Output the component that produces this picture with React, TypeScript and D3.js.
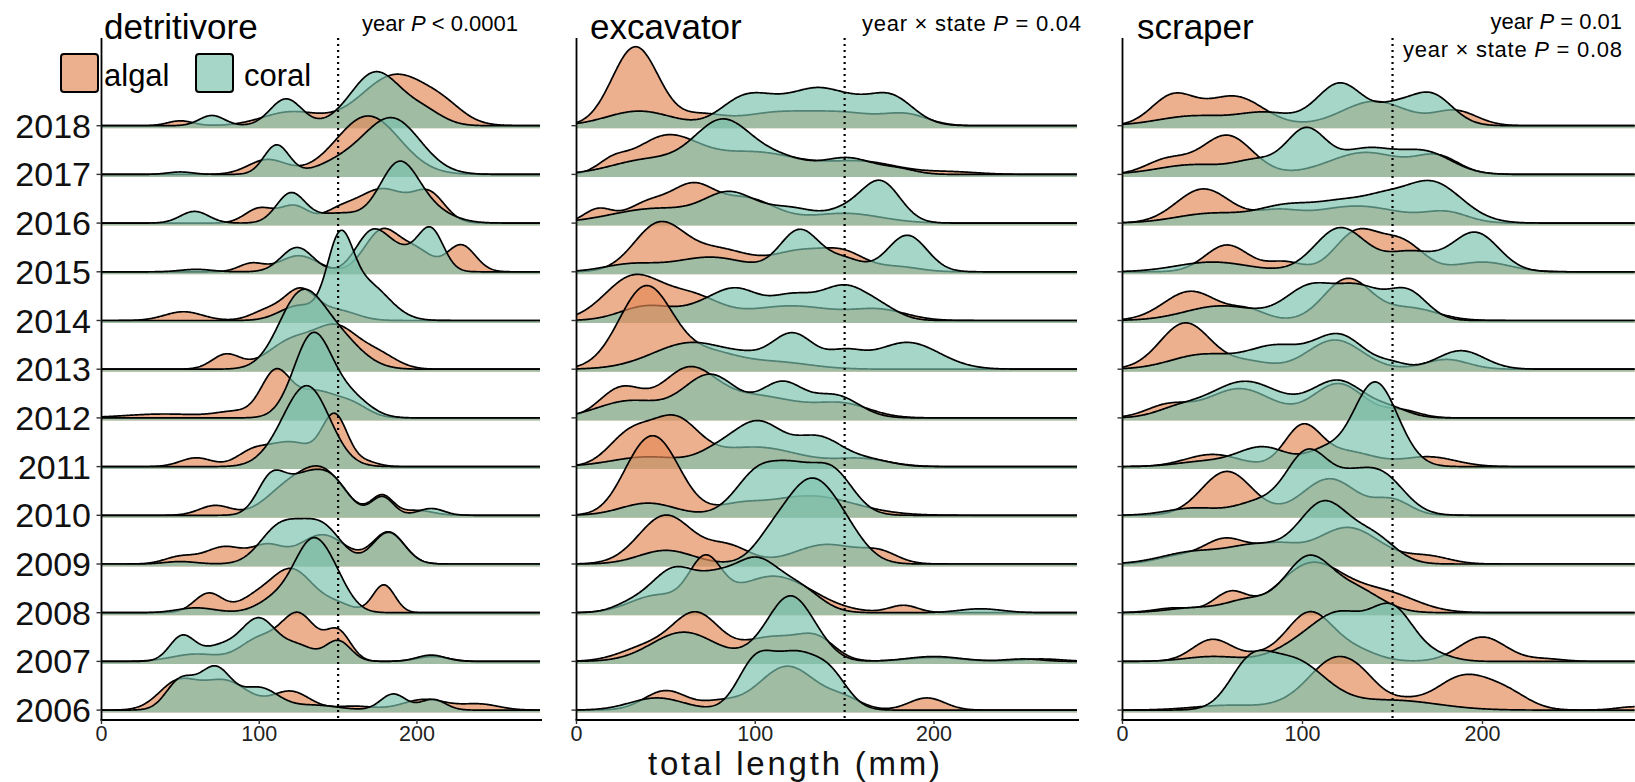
import React from "react";
import * as d3 from "d3";

// ---------- data ----------
const years = [2006, 2007, 2008, 2009, 2010, 2011, 2012, 2013, 2014, 2015, 2016, 2017, 2018];
const xTicks = [0, 100, 200];
const refLine = 150;
const panelTitles = ["detritivore", "excavator", "scraper"];
const legendLabels = ["algal", "coral"];

// density components per year (2006..2018): [mode mm, relative height, spread mm]
const detritivoreAlgal = [
  [[48, .55, 12], [78, .6, 15], [120, .38, 12], [160, .08, 12], [205, .22, 14], [240, .12, 12]],
  [[60, .15, 15], [100, .45, 12], [125, .95, 11], [150, .6, 8], [210, .1, 10]],
  [[68, .4, 9], [95, .2, 10], [120, .9, 14], [150, .15, 10], [179, .57, 7]],
  [[50, .15, 10], [78, .35, 12], [105, .35, 10], [140, .6, 15], [182, .65, 10]],
  [[72, .2, 10], [120, .6, 15], [142, .75, 13], [178, .4, 7], [200, .1, 10]],
  [[60, .18, 10], [95, .25, 10], [120, .5, 15], [148, 1.0, 8], [167, .1, 8]],
  [[40, .08, 25], [85, .12, 12], [110, .85, 9], [135, .55, 15], [160, .2, 10]],
  [[79, .3, 9], [122, .6, 16], [150, .75, 13], [175, .3, 12]],
  [[52, .18, 12], [105, .2, 10], [126, .62, 10], [150, .2, 12]],
  [[95, .17, 8], [125, .33, 12], [178, .85, 11], [200, .4, 10], [228, .55, 9]],
  [[100, .3, 9], [122, .35, 9], [150, .2, 10], [178, .7, 16], [208, .55, 10]],
  [[105, .3, 12], [169, 1.2, 20]],
  [[50, .1, 8], [120, .28, 18], [187, 1.05, 22], [218, .2, 12]],
];
const detritivoreCoral = [
  [[50, .6, 9], [72, .85, 10], [100, .45, 12], [135, .1, 15], [185, .33, 8], [210, .22, 8]],
  [[51, .5, 8], [75, .3, 12], [100, .85, 11], [125, .3, 10], [150, .42, 8], [209, .13, 9]],
  [[60, .1, 12], [112, .3, 12], [133, 1.3, 11], [148, .5, 10]],
  [[50, .05, 10], [112, .7, 12], [125, .2, 10], [140, .75, 12], [182, .65, 10]],
  [[108, .8, 9], [127, .6, 10], [145, .75, 11], [178, .38, 7], [209, .14, 8]],
  [[112, .2, 12], [131, 1.6, 14]],
  [[134, 1.7, 12], [158, .4, 12]],
  [[126, 1.45, 14], [150, .6, 15]],
  [[125, .3, 12], [151, 1.45, 8], [168, .75, 14]],
  [[60, .05, 10], [124, .5, 10], [171, .75, 10], [190, .4, 12], [209, .8, 8]],
  [[59, .24, 9], [120, .6, 9], [150, .2, 15], [188, 1.1, 12], [205, .3, 15]],
  [[50, .05, 8], [111, .6, 8], [150, .2, 15], [184, 1.15, 18]],
  [[70, .21, 8], [117, .55, 10], [174, 1.1, 16], [205, .25, 12]],
];
const excavatorAlgal = [
  [[50, .4, 12], [80, .15, 10], [118, .9, 16], [150, .2, 10], [196, .25, 10]],
  [[40, .3, 15], [67, .93, 13], [110, .5, 18], [135, .35, 10], [200, .08, 15], [260, .05, 12]],
  [[45, .35, 15], [72, .95, 9], [110, .75, 22], [183, .15, 8]],
  [[50, 1.0, 15], [85, .35, 12], [140, .4, 18], [170, .2, 10]],
  [[30, .2, 10], [44, 1.55, 14], [90, .15, 12], [130, .4, 25]],
  [[30, .65, 12], [55, .9, 13], [100, .4, 25], [160, .15, 15]],
  [[25, .6, 12], [62, .9, 15], [100, .45, 25], [150, .25, 15]],
  [[39, 1.7, 15], [75, .3, 15], [110, .15, 20]],
  [[32, .9, 16], [65, .45, 15], [120, .3, 25], [170, .2, 15]],
  [[46, .95, 14], [80, .45, 18], [125, .4, 15], [150, .35, 12], [180, .1, 12]],
  [[12, .28, 8], [40, .4, 12], [65, .7, 12], [95, .5, 16], [150, .2, 20]],
  [[20, .2, 8], [50, .75, 18], [100, .45, 25], [160, .25, 20], [210, .05, 15]],
  [[33, 1.62, 13], [70, .2, 12], [110, .25, 20], [150, .25, 20], [185, .2, 12]],
];
const excavatorCoral = [
  [[45, .25, 15], [100, .95, 10], [122, 1.05, 12], [142, .65, 10]],
  [[60, .6, 18], [100, .1, 10], [119, 1.27, 12], [135, .2, 10], [200, .1, 15], [250, .05, 10]],
  [[30, .15, 10], [55, .9, 13], [78, .45, 10], [100, 1.05, 13], [125, .45, 12], [226, .08, 12]],
  [[50, .28, 15], [108, .35, 10], [130, 1.6, 14], [150, .5, 12]],
  [[40, .25, 15], [103, .95, 13], [122, .55, 10], [142, .95, 12]],
  [[40, .2, 20], [80, .3, 12], [102, .85, 13], [135, .6, 14], [165, .12, 12]],
  [[30, .35, 18], [75, .88, 15], [115, .7, 12], [145, .45, 13]],
  [[65, .55, 22], [95, .1, 10], [121, .72, 12], [150, .3, 10], [185, .55, 18]],
  [[40, .3, 15], [70, .2, 12], [90, .6, 13], [120, .45, 12], [150, .7, 14], [172, .15, 10]],
  [[30, .15, 15], [75, .3, 20], [125, .85, 11], [150, .25, 10], [185, .75, 11]],
  [[45, .3, 25], [86, .55, 14], [120, .3, 15], [150, .2, 10], [170, .85, 11]],
  [[40, .3, 20], [82, 1.08, 16], [115, .3, 15], [152, .33, 14], [180, .1, 10]],
  [[35, .3, 18], [90, .3, 12], [105, .45, 15], [136, .7, 15], [155, .15, 10], [175, .62, 13]],
];
const scraperAlgal = [
  [[60, .1, 20], [95, .1, 12], [118, 1.0, 14], [135, .3, 10], [155, .15, 10], [190, .7, 16], [215, .25, 12], [285, .07, 10]],
  [[50, .45, 11], [75, .1, 10], [104, 1.0, 13], [130, .2, 12], [200, .5, 13], [235, .05, 10]],
  [[30, .1, 12], [60, .4, 9], [105, 1.0, 18], [145, .4, 18]],
  [[30, .15, 12], [57, .5, 12], [85, .35, 12], [125, .75, 18], [170, .15, 12]],
  [[58, .9, 14], [115, .75, 15], [150, .3, 10]],
  [[50, .25, 15], [100, .8, 10], [125, .3, 15], [170, .2, 15]],
  [[25, .25, 12], [65, .6, 18], [120, .7, 14], [155, .15, 10]],
  [[35, .95, 14], [70, .15, 12], [118, .6, 15], [180, .2, 12]],
  [[38, .6, 15], [70, .2, 10], [125, .85, 13], [160, .25, 15]],
  [[58, .55, 12], [90, .2, 10], [130, .8, 12], [155, .6, 12], [200, .2, 15]],
  [[45, .7, 15], [85, .2, 12], [130, .35, 25], [180, .2, 12]],
  [[25, .3, 12], [58, .8, 14], [135, .45, 20], [175, .35, 12]],
  [[28, .6, 12], [62, .6, 16], [140, .5, 18], [185, .3, 12]],
];
const scraperCoral = [
  [[70, .7, 11], [94, 1.02, 18], [150, .2, 25]],
  [[50, .1, 15], [100, .35, 15], [122, .85, 14], [150, 1.05, 12], [175, .1, 10]],
  [[40, .1, 15], [70, .25, 12], [103, 1.1, 13], [130, .45, 14]],
  [[40, .25, 18], [75, .35, 15], [112, 1.25, 14], [140, .5, 12]],
  [[40, .15, 15], [75, .25, 12], [103, 1.3, 12], [125, .4, 10], [143, .85, 13]],
  [[45, .1, 15], [78, .4, 14], [112, .3, 10], [140, 1.7, 12], [155, .1, 10]],
  [[30, .15, 12], [68, .75, 20], [120, .75, 15], [150, .15, 10]],
  [[45, .3, 18], [85, .45, 15], [120, .7, 14], [150, .1, 8], [188, .38, 13]],
  [[55, .3, 20], [105, .7, 14], [132, .6, 12], [158, .6, 11]],
  [[50, .2, 20], [121, .9, 14], [160, .4, 14], [196, .8, 13]],
  [[50, .2, 20], [90, .3, 15], [125, .45, 18], [145, .15, 10], [171, .85, 17]],
  [[40, .2, 20], [75, .25, 12], [102, .9, 11], [135, .5, 15], [168, .45, 15]],
  [[40, .2, 20], [80, .25, 15], [121, .87, 13], [150, .3, 10], [171, .65, 12]],
];

// ---------- layout ----------
const W = 1635;
const H = 782;
const AXIS_Y = 720;
const ROW = 48.7;
const ALGAL = "#E48958";
const CORAL = "#7AC2AD";
const FONT = "'Liberation Sans', Arial, Helvetica, sans-serif";

const panels = [
  { x0: 101.5, x1: 540, max: 278, algal: detritivoreAlgal, coral: detritivoreCoral, titleX: 104 },
  { x0: 576.5, x1: 1077, max: 280, algal: excavatorAlgal, coral: excavatorCoral, titleX: 590 },
  { x0: 1122.5, x1: 1635, max: 284.7, algal: scraperAlgal, coral: scraperCoral, titleX: 1137 },
];

const yBase = d3.scaleLinear().domain([2006, 2018]).range([710.1, 125.7]);
const hScale = d3.scaleLinear().domain([0, 1]).range([0, ROW]);

function density(comps: number[][], x: number) {
  let s = 0;
  for (const [m, h, sd] of comps) s += h * Math.exp(-((x - m) * (x - m)) / (2 * sd * sd));
  return s;
}

function Panel({ p, idx }: { p: any; idx: number }) {
  const xs = d3.scaleLinear().domain([0, p.max]).range([p.x0, p.x1]);
  const grid = d3.range(0, p.max + 0.001, 0.5);
  const rows = years.map((y, i) => ({ year: y, i })).reverse();
  return (
    <g>
      {rows.map(({ year, i }) => {
        const b = yBase(year);
        const series = [
          { comps: p.algal[i], color: ALGAL, key: "a" },
          { comps: p.coral[i], color: CORAL, key: "c" },
        ];
        return (
          <g key={year}>
            {series.map((s) => {
              const area = d3
                .area<number>()
                .x((d) => xs(d))
                .y0(b + 2.5)
                .y1((d) => b - hScale(density(s.comps, d)));
              const line = d3
                .line<number>()
                .x((d) => xs(d))
                .y((d) => b - hScale(density(s.comps, d)));
              return (
                <g key={s.key}>
                  <path d={area(grid) || ""} fill={s.color} fillOpacity={0.67} stroke="none" />
                  <path d={line(grid) || ""} fill="none" stroke="#000" strokeWidth={1.7} strokeLinejoin="round" />
                </g>
              );
            })}
          </g>
        );
      })}
      {/* axes */}
      <line x1={p.x0} x2={p.x0} y1={38} y2={AXIS_Y} stroke="#000" strokeWidth={1.8} />
      <line x1={p.x0 - 1} x2={p.x1 + 2} y1={AXIS_Y} y2={AXIS_Y} stroke="#000" strokeWidth={1.8} />
      {years.map((y) => (
        <line key={y} x1={p.x0 - 5} x2={p.x0} y1={yBase(y)} y2={yBase(y)} stroke="#333" strokeWidth={1.4} />
      ))}
      {xTicks.map((t) => (
        <g key={t}>
          <line x1={xs(t)} x2={xs(t)} y1={AXIS_Y} y2={AXIS_Y + 4} stroke="#333" strokeWidth={1.4} />
          <text x={xs(t)} y={740.5} textAnchor="middle" fontSize={21.5} fill="#222" fontFamily={FONT}>
            {t}
          </text>
        </g>
      ))}
      <line
        x1={xs(refLine)}
        x2={xs(refLine)}
        y1={38}
        y2={AXIS_Y}
        stroke="#000"
        strokeWidth={2.2}
        strokeDasharray="2 4"
      />
      <text x={p.titleX} y={39} fontSize={35} fill="#000" fontFamily={FONT}>
        {panelTitles[idx]}
      </text>
    </g>
  );
}

export default function App() {
  return (
    <svg
      width={W}
      height={H}
      viewBox={`0 0 ${W} ${H}`}
      style={{ position: "absolute", left: 0, top: 0, background: "#fff" }}
    >
      <rect x={0} y={0} width={W} height={H} fill="#fff" />
      {panels.map((p, i) => (
        <Panel key={i} p={p} idx={i} />
      ))}
      {/* year labels */}
      {years.map((y) => (
        <text key={y} x={91} y={yBase(y) + 12} textAnchor="end" fontSize={34} fill="#111" fontFamily={FONT}>
          {y}
        </text>
      ))}
      {/* legend */}
      <rect x={61} y={54} width={37} height={38} rx={3} fill={ALGAL} fillOpacity={0.67} stroke="#000" strokeWidth={2} />
      <text x={104} y={86} fontSize={31} fill="#000" fontFamily={FONT}>{legendLabels[0]}</text>
      <rect x={196} y={54} width={37} height={38} rx={3} fill={CORAL} fillOpacity={0.67} stroke="#000" strokeWidth={2} />
      <text x={244} y={86} fontSize={31} fill="#000" fontFamily={FONT}>{legendLabels[1]}</text>
      {/* annotations */}
      <text x={518} y={31} textAnchor="end" fontSize={22} fill="#000" fontFamily={FONT}>
        year <tspan fontStyle="italic">P</tspan> {"< 0.0001"}
      </text>
      <text x={1081} y={31} textAnchor="end" fontSize={22} fill="#000" fontFamily={FONT} textLength={219} lengthAdjust="spacing">
        year × state <tspan fontStyle="italic">P</tspan> = 0.04
      </text>
      <text x={1622} y={29} textAnchor="end" fontSize={22} fill="#000" fontFamily={FONT}>
        year <tspan fontStyle="italic">P</tspan> = 0.01
      </text>
      <text x={1622} y={57} textAnchor="end" fontSize={22} fill="#000" fontFamily={FONT} textLength={219} lengthAdjust="spacing">
        year × state <tspan fontStyle="italic">P</tspan> = 0.08
      </text>
      <text
        x={794}
        y={775}
        textAnchor="middle"
        fontSize={33}
        fill="#111"
        fontFamily={FONT}
        textLength={292}
        lengthAdjust="spacing"
      >
        total length (mm)
      </text>
    </svg>
  );
}
